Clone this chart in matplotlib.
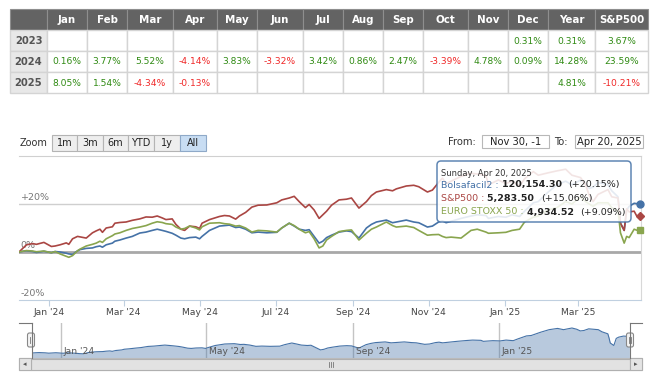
import matplotlib
matplotlib.use('Agg')
import matplotlib.pyplot as plt
import matplotlib.dates as mdates
import matplotlib.transforms as mtransforms
from matplotlib.patches import Rectangle, FancyBboxPatch
import pandas as pd

plt.rcParams['font.family'] = ['DejaVu Sans']

#####tabla de rentabilidades mensuales#####
months = ['Jan', 'Feb', 'Mar', 'Apr', 'May', 'Jun', 'Jul', 'Aug', 'Sep', 'Oct', 'Nov', 'Dec']
years = ['2023', '2024', '2025']
ret_2023 = [None] * 11 + [0.31]
ret_2024 = [0.16, 3.77, 5.52, -4.14, 3.83, -3.32, 3.42, 0.86, 2.47, -3.39, 4.78, 0.09]
ret_2025 = [8.05, 1.54, -4.34, -0.13] + [None] * 8
year_ret = [0.31, 14.28, 4.81]
sp500_ret = [3.67, 23.59, -10.21]

#####series (% desde el inicio)#####
dates = ['2023-12-08', '2023-12-11', '2023-12-14', '2023-12-19', '2023-12-22', '2023-12-28',
         '2024-01-03', '2024-01-06', '2024-01-10', '2024-01-15', '2024-01-17', '2024-01-20',
         '2024-01-24', '2024-01-26', '2024-01-31', '2024-02-05', '2024-02-08', '2024-02-11',
         '2024-02-13', '2024-02-16', '2024-02-21', '2024-02-23', '2024-02-27', '2024-03-03',
         '2024-03-08', '2024-03-14', '2024-03-19', '2024-03-24', '2024-03-28', '2024-04-01',
         '2024-04-04', '2024-04-09', '2024-04-12', '2024-04-16', '2024-04-19', '2024-04-23',
         '2024-04-28', '2024-05-01', '2024-05-03', '2024-05-09', '2024-05-17', '2024-05-21',
         '2024-05-25', '2024-05-30', '2024-06-02', '2024-06-07', '2024-06-12', '2024-06-17',
         '2024-06-24', '2024-07-02', '2024-07-06', '2024-07-12', '2024-07-16', '2024-07-20',
         '2024-07-25', '2024-07-28', '2024-08-01', '2024-08-05', '2024-08-08', '2024-08-11',
         '2024-08-15', '2024-08-21', '2024-08-27', '2024-08-31', '2024-09-06', '2024-09-12',
         '2024-09-16', '2024-09-20', '2024-09-28', '2024-10-03', '2024-10-06', '2024-10-14',
         '2024-10-20', '2024-10-24', '2024-10-31', '2024-11-04', '2024-11-09', '2024-11-12',
         '2024-11-15', '2024-11-19', '2024-11-27', '2024-12-05', '2024-12-10', '2024-12-17',
         '2024-12-19', '2024-12-27', '2025-01-02', '2025-01-07', '2025-01-13', '2025-01-17',
         '2025-01-24', '2025-01-28', '2025-02-05', '2025-02-12', '2025-02-19', '2025-02-24',
         '2025-03-03', '2025-03-07', '2025-03-10', '2025-03-13', '2025-03-17', '2025-03-25',
         '2025-03-28', '2025-04-02', '2025-04-03', '2025-04-04', '2025-04-07', '2025-04-09',
         '2025-04-11', '2025-04-15', '2025-04-17', '2025-04-20']
bolsa = [0, 0.3, 0.5, 0.2, -0.2, 0.3,
         -0.3, 0.2, 0.0, -0.5, -0.8, -1.0,
         0.5, 1.0, 1.5, 1.7, 2.2, 2.5,
         2.0, 3.0, 3.7, 4.5, 5.0, 5.8,
         6.5, 7.9, 8.3, 9.0, 9.5, 9.0,
         8.6, 7.8, 7.0, 5.8, 5.5, 6.0,
         6.2, 5.5, 6.5, 9.0, 10.8, 11.0,
         11.2, 10.2, 10.4, 9.5, 8.0, 8.3,
         8.0, 8.2, 10.0, 12.0, 10.8, 9.5,
         9.0, 9.3, 6.5, 3.7, 4.5, 6.0,
         7.0, 8.3, 8.8, 8.5, 5.8, 10.0,
         11.5, 12.5, 13.3, 12.2, 12.5, 13.3,
         12.5, 12.2, 10.4, 10.8, 12.5, 13.0,
         12.2, 12.8, 14.0, 15.0, 15.5, 15.2,
         14.0, 14.8, 14.5, 15.5, 14.8, 17.0,
         20.5, 21.0, 25.0, 28.0, 29.5, 28.0,
         30.0, 28.5, 26.5, 27.0, 29.0, 28.0,
         25.5, 23.0, 18.0, 12.0, 9.0, 17.5,
         19.0, 20.3, 20.15, 20.15]
sp500 = [0, 1.5, 3.0, 3.5, 3.2, 4.0,
         2.3, 2.5, 3.0, 3.8, 3.2, 5.5,
         6.5, 6.3, 5.8, 8.0, 8.8, 9.5,
         8.2, 10.0, 10.5, 12.0, 12.3, 12.5,
         13.2, 13.8, 14.6, 14.5, 15.0, 14.2,
         13.5, 13.8, 11.5, 9.5, 9.0, 10.8,
         10.5, 9.8, 12.0, 13.5, 14.8, 15.2,
         15.0, 13.7, 15.0, 16.5, 18.7, 19.5,
         19.6, 20.5, 21.7, 22.5, 23.2, 21.0,
         18.5, 19.8, 17.5, 14.0, 15.5, 17.0,
         19.5, 21.7, 22.0, 22.5, 18.3, 21.0,
         23.5, 25.0, 26.0, 25.5, 26.3, 27.5,
         27.8, 27.2, 25.0, 25.8, 29.0, 30.8,
         28.5, 29.5, 31.5, 32.8, 32.5, 31.8,
         28.0, 30.0, 28.5, 29.5, 27.5, 30.5,
         33.5, 32.0, 33.0, 33.8, 34.5, 32.0,
         31.0, 28.0, 23.5, 21.0, 24.0, 26.0,
         23.0, 22.5, 17.5, 12.0, 9.0, 18.0,
         16.7, 17.0, 15.06, 15.06]
stoxx = [0, 0.3, 0.6, 0.4, 0.1, 0.4,
         -0.3, 0.2, -0.8, -1.8, -2.2, -1.5,
         0.5, 1.2, 2.5, 3.2, 3.7, 4.5,
         4.0, 5.5, 6.8, 7.5, 8.0, 9.0,
         9.8, 10.4, 11.0, 12.0, 12.6, 12.3,
         11.8, 11.5, 10.4, 9.5, 9.8, 10.8,
         10.0, 9.2, 10.5, 12.0, 12.2, 11.8,
         11.6, 10.8, 11.0, 10.0, 8.3, 9.0,
         8.8, 8.3, 10.0, 12.0, 11.0, 9.5,
         8.0, 8.5, 5.5, 1.7, 2.5, 5.0,
         6.5, 8.5, 9.0, 9.2, 5.0, 7.8,
         9.5, 10.4, 12.5, 11.0, 10.4, 10.8,
         10.2, 9.0, 7.0, 7.2, 7.3, 6.5,
         6.0, 6.2, 5.8, 9.0, 9.5, 8.3,
         7.8, 8.0, 8.2, 9.0, 9.5, 12.5,
         14.5, 15.0, 17.5, 18.5, 21.0, 20.0,
         23.0, 21.0, 20.0, 19.0, 20.5, 20.5,
         18.5, 17.0, 13.0, 8.0, 3.7, 6.5,
         6.0, 9.5, 9.09, 9.09]

names = ['Bolsafacil2', 'S&P500', 'EURO STOXX 50']
last_close = ['120,154.30', '5,283.50', '4,934.52']
colors = ['#4572A7', '#AA4643', '#89A54E']
markers = ['o', 'D', 's']
x_ticks = ['2024-01-01', '2024-03-01', '2024-05-01', '2024-07-01',
           '2024-09-01', '2024-11-01', '2025-01-01', '2025-03-01']
nav_ticks = ['2024-01-01', '2024-05-01', '2024-09-01', '2025-01-01']
y_ticks = [-20, 0, 20]
zoom_buttons = ['1m', '3m', '6m', 'YTD', '1y', 'All']

W, H = 650, 373
fig = plt.figure(figsize=(6.5, 3.73), dpi=100)
fig.patch.set_facecolor('white')


def px_axes(x, y, w, h, **kw):
    return fig.add_axes([x / W, 1 - (y + h) / H, w / W, h / H], **kw)


d = pd.to_datetime(dates)
series = [bolsa, sp500, stoxx]
x0 = d[0]
x1 = d[-1] + pd.Timedelta(hours=12)

# grafico principal
ax = px_axes(19, 156, 622, 144, zorder=1)
ax.set_facecolor('none')
ax.axhline(20, color='#cfcfcf', lw=1, zorder=1)
ax.axhline(0, color='#a8a8a8', lw=2, zorder=1)
for v, c, m, n in zip(series, colors, markers, names):
    ax.plot(d, v, color=c, lw=1.2, zorder=3)
    ax.plot(d[-1], v[-1], marker=m, color=c, ms=5 if m != 'D' else 4,
            clip_on=False, zorder=4, ls='none')
ax.set_xlim(x0, x1)
ax.set_ylim(-20, 40)
ax.set_yticks([])
ax.spines['left'].set_visible(False)
ax.spines['top'].set_color('#d0d0d0')
ax.spines['right'].set_color('#d8d8d8')
ax.spines['bottom'].set_color('#C0D0E0')
ax.set_xticks(pd.to_datetime(x_ticks))
ax.xaxis.set_major_formatter(mdates.DateFormatter("%b '%y"))
ax.tick_params(axis='x', length=4, color='#C0D0E0', labelsize=6.6,
               labelcolor='#444444', pad=2)
tr = mtransforms.blended_transform_factory(ax.transAxes, ax.transData)
for v in y_ticks:
    lab = ('+%d%%' % v) if v > 0 else ('%d%%' % v)
    ax.text(0.003, v + 0.8, lab, transform=tr, fontsize=6.8, color='#777777',
            ha='left', va='bottom', zorder=2)

# navegador
nav = px_axes(32, 323, 598, 35, zorder=1)
nav.set_facecolor('none')
nav.fill_between(d, bolsa, -6, color='#4572A7', alpha=0.38, lw=0)
nav.plot(d, bolsa, color='#4572A7', lw=0.8)
for t in pd.to_datetime(nav_ticks):
    nav.axvline(t, color='#c4c4c4', lw=1, zorder=0)
    nav.annotate(t.strftime("%b '%y"), (t, 0), xycoords=('data', 'axes fraction'),
                 xytext=(3, 2), textcoords='offset pixels', fontsize=6.6,
                 color='#555555', ha='left', va='bottom')
nav.set_xlim(x0, x1)
nav.set_ylim(-6, 36)
nav.axis('off')

# capa superior: tabla, selector, tooltip
ov = fig.add_axes([0, 0, 1, 1], zorder=5)
ov.set_xlim(0, W)
ov.set_ylim(H, 0)
ov.axis('off')
ov.patch.set_visible(False)

col_x = [10, 47, 87, 127, 173, 217, 257, 303, 343, 383, 423, 468, 508, 548, 595, 648]
row_y = [9, 30, 51, 72, 93]
headers = [''] + months + ['Year', 'S&P500']
for i, h in enumerate(headers):
    a, b = col_x[i], col_x[i + 1]
    ov.add_patch(Rectangle((a, row_y[0]), b - a, row_y[1] - row_y[0],
                           fc='#636363', ec='#8e8e8e', lw=0.8))
    if h:
        ov.text((a + b) / 2, (row_y[0] + row_y[1]) / 2 + 0.5, h, color='white',
                fontweight='bold', fontsize=7.4, ha='center', va='center')
rows = [ret_2023, ret_2024, ret_2025]
for r, yr in enumerate(years):
    ya, yb = row_y[r + 1], row_y[r + 2]
    cells = [yr] + rows[r] + [year_ret[r], sp500_ret[r]]
    for i, v in enumerate(cells):
        a, b = col_x[i], col_x[i + 1]
        fc = '#e8e8e8' if i == 0 else 'white'
        ov.add_patch(Rectangle((a, ya), b - a, yb - ya, fc=fc, ec='#d4d4d4', lw=1))
        if v is None:
            continue
        if i == 0:
            ov.text((a + b) / 2, (ya + yb) / 2 + 0.5, v, color='#555555',
                    fontweight='bold', fontsize=7.2, ha='center', va='center')
        else:
            c = '#2f8a12' if v >= 0 else '#f02828'
            ov.text((a + b) / 2, (ya + yb) / 2 + 0.5, '%.2f%%' % v, color=c,
                    fontsize=6.6, ha='center', va='center')

# selector de rango
ov.text(20, 143, 'Zoom', fontsize=7, color='#333333', ha='left', va='center')
bx = [52, 77, 103, 128, 154, 180, 206]
for i, lab in enumerate(zoom_buttons):
    act = lab == 'All'
    ov.add_patch(Rectangle((bx[i], 135), bx[i + 1] - bx[i], 16,
                           fc='#c8ddf3' if act else '#eeeeee',
                           ec='#8fa9c8' if act else '#b4b4b4', lw=0.8))
    ov.text((bx[i] + bx[i + 1]) / 2, 143.5, lab, fontsize=7,
            color='#222222', ha='center', va='center')
ov.text(448, 142, 'From:', fontsize=7.2, color='#333333', ha='left', va='center')
ov.add_patch(Rectangle((482, 135), 67, 13, fc='white', ec='#b8b8b8', lw=0.8))
ov.text(515.5, 142, 'Nov 30, -1', fontsize=7.2, color='#222222', ha='center', va='center')
ov.text(554, 142, 'To:', fontsize=7.2, color='#333333', ha='left', va='center')
ov.add_patch(Rectangle((575, 135), 68, 13, fc='white', ec='#b8b8b8', lw=0.8))
ov.text(609, 142, 'Apr 20, 2025', fontsize=7.2, color='#222222', ha='center', va='center')

# tooltip
ov.add_patch(FancyBboxPatch((437, 161), 194, 61, boxstyle='round,pad=0,rounding_size=4',
                            fc='white', ec='#4572A7', lw=1.1, alpha=0.86, zorder=5))
ov.text(441, 174, d[-1].strftime('%A, %b %d, %Y'), fontsize=6, color='#333333',
        ha='left', va='center', zorder=6)
renderer = fig.canvas.get_renderer()
for k in range(3):
    y = 185 + 13.5 * k
    parts = [(names[k] + ' : ', colors[k], 'normal'),
             (last_close[k] + '  ', '#222222', 'bold'),
             ('(+%.2f%%)' % series[k][-1], '#222222', 'normal')]
    x = 441
    for txt, c, wgt in parts:
        t = ov.text(x, y, txt, fontsize=6.8, color=c, fontweight=wgt,
                    ha='left', va='center', zorder=6)
        x = t.get_window_extent(renderer=renderer).x1

# borde del navegador y barra de desplazamiento
ov.plot([19, 32], [323, 323], color='#777777', lw=0.8)
ov.plot([32, 32], [323, 358], color='#777777', lw=0.8)
ov.plot([630, 642], [323, 323], color='#777777', lw=0.8)
ov.plot([630, 630], [323, 358], color='#777777', lw=0.8)
for hx in [31, 630]:
    ov.add_patch(FancyBboxPatch((hx - 3.5, 333), 7, 14, boxstyle='round,pad=0,rounding_size=2',
                                fc='#f4f4f4', ec='#888888', lw=0.8))
    ov.plot([hx - 1, hx - 1], [337, 343], color='#777777', lw=0.6)
    ov.plot([hx + 1, hx + 1], [337, 343], color='#777777', lw=0.6)
ov.add_patch(Rectangle((19, 358), 623, 12, fc='#eeeeee', ec='#bbbbbb', lw=0.8))
ov.add_patch(Rectangle((31, 358.5), 599, 11, fc='#e2e2e2', ec='#b0b0b0', lw=0.8))
for gx in [329, 331, 333]:
    ov.plot([gx, gx], [361.5, 366.5], color='#777777', lw=0.6)
ov.add_patch(Rectangle((19, 358), 12, 12, fc='#e4e4e4', ec='#b0b0b0', lw=0.8))
ov.add_patch(Rectangle((630, 358), 12, 12, fc='#e4e4e4', ec='#b0b0b0', lw=0.8))
ov.text(25, 364, '◂', fontsize=5, color='#555555', ha='center', va='center')
ov.text(636, 364, '▸', fontsize=5, color='#555555', ha='center', va='center')

fig.savefig('out.png', dpi=100)
